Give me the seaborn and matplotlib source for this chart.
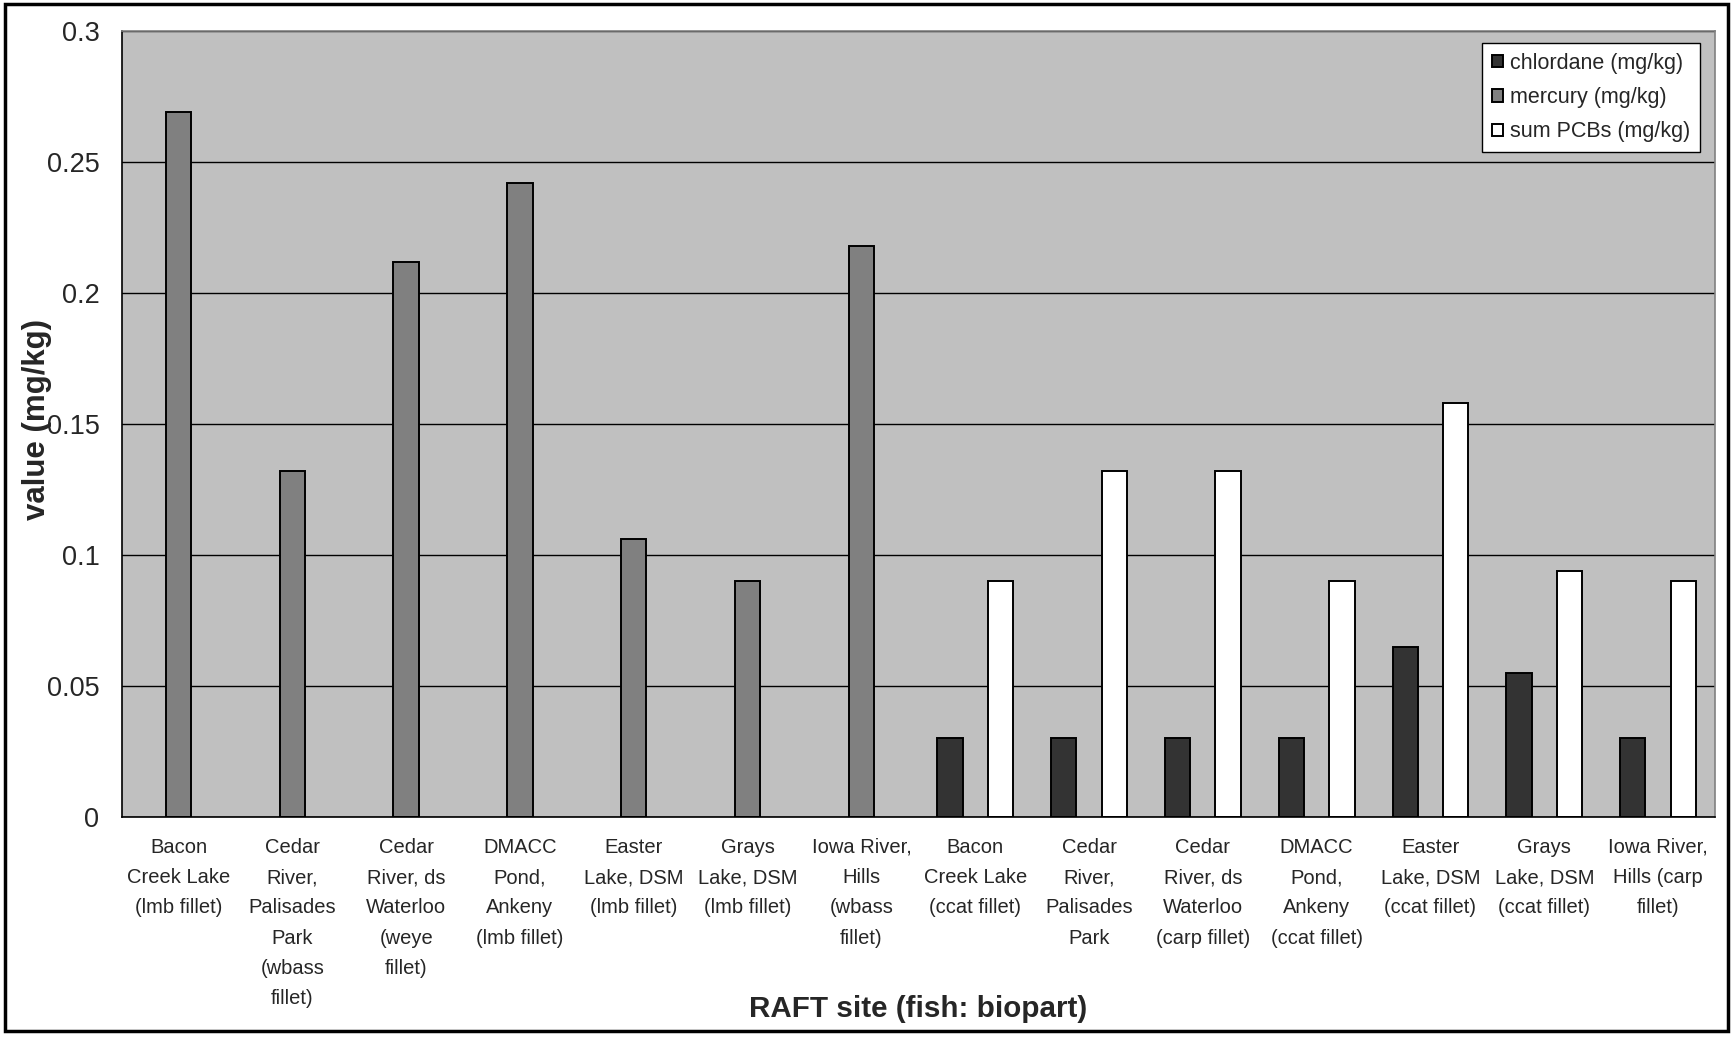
import numpy as np
import pandas as pd
import matplotlib
matplotlib.use("Agg")
import matplotlib.pyplot as plt
from matplotlib.patches import Rectangle
import seaborn as sns

# ---- data -------------------------------------------------------------
sites = [
    "Bacon\nCreek Lake\n(lmb fillet)",
    "Cedar\nRiver,\nPalisades\nPark\n(wbass\nfillet)",
    "Cedar\nRiver, ds\nWaterloo\n(weye\nfillet)",
    "DMACC\nPond,\nAnkeny\n(lmb fillet)",
    "Easter\nLake, DSM\n(lmb fillet)",
    "Grays\nLake, DSM\n(lmb fillet)",
    "Iowa River,\nHills\n(wbass\nfillet)",
    "Bacon\nCreek Lake\n(ccat fillet)",
    "Cedar\nRiver,\nPalisades\nPark",
    "Cedar\nRiver, ds\nWaterloo\n(carp fillet)",
    "DMACC\nPond,\nAnkeny\n(ccat fillet)",
    "Easter\nLake, DSM\n(ccat fillet)",
    "Grays\nLake, DSM\n(ccat fillet)",
    "Iowa River,\nHills (carp\nfillet)",
]
substances = ["chlordane (mg/kg)", "mercury (mg/kg)", "sum PCBs (mg/kg)"]

chlordane = [np.nan] * 7 + [0.03, 0.03, 0.03, 0.03, 0.065, 0.055, 0.03]
mercury = [0.269, 0.132, 0.212, 0.242, 0.106, 0.09, 0.218] + [np.nan] * 7
sum_pcbs = [np.nan] * 7 + [0.09, 0.132, 0.132, 0.09, 0.158, 0.094, 0.09]

y_ticks = [0, 0.05, 0.1, 0.15, 0.2, 0.25, 0.3]
y_tick_labels = ["0", "0.05", "0.1", "0.15", "0.2", "0.25", "0.3"]

df = pd.DataFrame({
    "site": sites * 3,
    "substance": np.repeat(substances, len(sites)),
    "value": chlordane + mercury + sum_pcbs,
}).dropna()

# ---- style ------------------------------------------------------------
sns.set_theme(style="white")
plt.rcParams["font.family"] = ["Liberation Sans", "DejaVu Sans"]

colors = ["#333333", "#808080", "#ffffff"]

fig = plt.figure(figsize=(17.33, 10.37), dpi=100)
ax = fig.add_axes([121.6 / 1733, 1 - 817 / 1037, (1715 - 121.6) / 1733, (817 - 31) / 1037])
ax.set_facecolor("#c0c0c0")

sns.barplot(
    data=df, x="site", y="value", hue="substance",
    order=sites, hue_order=substances, palette=colors,
    width=0.667, errorbar=None, edgecolor="black", linewidth=1.4,
    saturation=1, ax=ax,
)

# axes limits & ticks
ax.set_xlim(-0.5, len(sites) - 0.5)
ax.set_ylim(0, 0.3)
ax.set_yticks(y_ticks)
ax.set_yticklabels(y_tick_labels, fontsize=19.5)
ax.set_xticks(range(len(sites)))
ax.set_xticklabels(sites, fontsize=14.5, linespacing=1.75, va="top")
ax.set_xticks(np.arange(-0.5, len(sites), 1), minor=True)
ax.tick_params(axis="x", which="major", length=0, pad=15)
ax.tick_params(axis="x", which="minor", length=5, width=1, color="black", direction="out")
ax.tick_params(axis="y", which="major", length=6.5, width=1, color="black", direction="out", pad=9.5)

ax.yaxis.grid(True, color="black", linewidth=1)
ax.set_axisbelow(True)

for side in ("left", "bottom"):
    ax.spines[side].set_color("black")
    ax.spines[side].set_linewidth(1.2)
for side in ("top", "right"):
    ax.spines[side].set_visible(True)
    ax.spines[side].set_color("#808080")
    ax.spines[side].set_linewidth(1.2)

ax.set_xlabel("RAFT site (fish: biopart)", fontsize=21.3, fontweight="bold", va="center")
ax.xaxis.set_label_coords(0.5, -(1009 - 817) / 786)
ax.set_ylabel("value (mg/kg)", fontsize=22.5, fontweight="bold", va="center")
ax.yaxis.set_label_coords((37 - 121.6) / 1593.4, 0.5057)

handles, labels = ax.get_legend_handles_labels()
ax.legend(
    handles, labels, loc="upper right",
    bbox_to_anchor=((1700 - 121.6) / 1593.4, (817 - 43) / 786), borderaxespad=0,
    fontsize=15.5, frameon=True, fancybox=False, shadow=False, framealpha=1,
    edgecolor="black", handlelength=0.5, handleheight=0.5, handletextpad=0.35,
    labelspacing=0.62, borderpad=0.45,
)
ax.get_legend().get_frame().set_linewidth(1.0)

# outer frame around the whole chart
fig.patches.append(Rectangle(
    (4.5 / 1733, 6 / 1037), (1728 - 4.5) / 1733, (1031 - 4) / 1037,
    transform=fig.transFigure, fill=False, edgecolor="black", linewidth=2.5,
))

fig.savefig("out.png", dpi=100, facecolor="white")
